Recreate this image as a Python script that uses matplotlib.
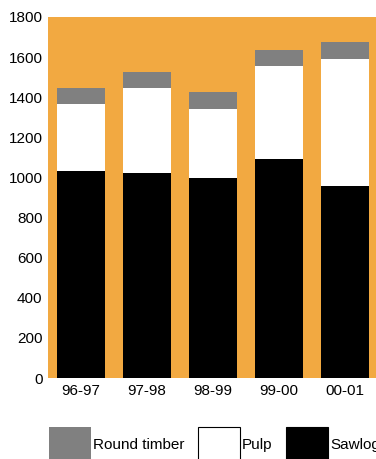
import matplotlib
matplotlib.use("Agg")
import matplotlib.pyplot as plt
import matplotlib.patches as mpatches
import numpy as np

plt.rcParams["font.family"] = ["Liberation Sans", "DejaVu Sans"]

# --- data ---
seasons = ["96-97", "97-98", "98-99", "99-00", "00-01"]
sawlog = [1030, 1022, 997, 1092, 957]
pulp = [335, 425, 344, 463, 633]
round_timber = [80, 78, 85, 80, 85]

series_names = ["Round timber", "Pulp", "Sawlog"]
series_colors = ["#808080", "#ffffff", "#000000"]

ORANGE = "#f2a941"

fig = plt.figure(figsize=(3.76, 4.59), dpi=100)
W, H = 376, 459
ax = fig.add_axes([48 / W, (H - 378) / H, 330 / W, 361 / H])
ax.set_facecolor(ORANGE)

x = np.arange(len(seasons))
bw = 0.727
ax.bar(x, sawlog, bw, color=series_colors[2])
ax.bar(x, pulp, bw, bottom=sawlog, color=series_colors[1])
ax.bar(x, round_timber, bw, bottom=np.add(sawlog, pulp), color=series_colors[0])

ax.set_xlim(-0.5, len(seasons) - 0.5)
ax.set_ylim(0, 1800)
ax.set_yticks(range(0, 1801, 200))
ax.set_xticks(x)
ax.set_xticklabels(seasons)
ax.tick_params(length=0, labelsize=11, pad=4)
for s in ax.spines.values():
    s.set_visible(False)

# --- legend along the bottom (cut by figure edge, as in original) ---
leg_x = [49, 198, 286]
for lx, name, col in zip(leg_x, series_names, series_colors):
    fig.patches.append(mpatches.Rectangle(
        (lx / W, -0.02), 42 / W, (H - 427) / H + 0.02,
        transform=fig.transFigure, facecolor=col,
        edgecolor="none" if col == "#808080" else "black", linewidth=0.8))
    fig.text((lx + 44) / W, (H - 445) / H, name, fontsize=11, va="center", ha="left")

fig.savefig("out.png", dpi=100)
